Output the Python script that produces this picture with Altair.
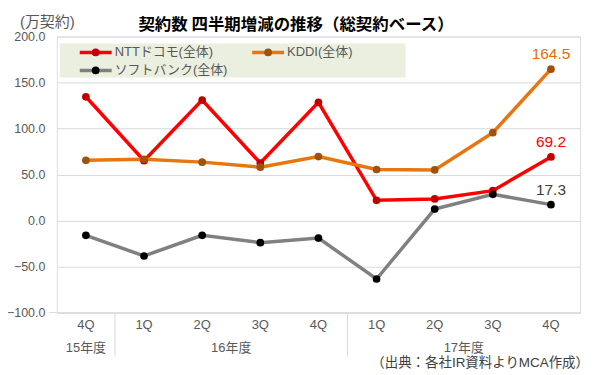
import altair as alt
import pandas as pd

# ---- data ----
cat_keys = ["15-4Q", "16-1Q", "16-2Q", "16-3Q", "16-4Q", "17-1Q", "17-2Q", "17-3Q", "17-4Q"]
series_names = ["NTTドコモ(全体)", "KDDI(全体)", "ソフトバンク(全体)"]
ntt = [134.5, 65.0, 131.0, 62.5, 128.5, 22.0, 23.5, 32.5, 69.2]
kddi = [65.5, 66.5, 63.5, 58.0, 69.5, 55.5, 55.0, 95.5, 164.5]
sb = [-16.0, -38.5, -16.0, -24.0, -19.0, -63.5, 12.5, 28.5, 17.3]
year_labels = ["15年度", "16年度", "17年度"]
line_colors = ["#FF0000", "#E8760F", "#808080"]
marker_colors = ["#C00000", "#A0520C", "#000000"]
label_colors = ["#FF0000", "#E46C0A", "#404040"]

rows = []
for name, vals in zip(series_names, [ntt, kddi, sb]):
    for i, (k, v) in enumerate(zip(cat_keys, vals)):
        rows.append({"cat": k, "series": name, "value": v, "last": i == len(cat_keys) - 1})
df = pd.DataFrame(rows)

W, H = 525, 277
FONT = "Liberation Sans, Noto Sans CJK JP"
GRAY = "#595959"

xenc = alt.X("cat:N", sort=cat_keys,
             scale=alt.Scale(domain=cat_keys, paddingInner=0, paddingOuter=0),
             axis=alt.Axis(title=None, labelExpr="split(datum.value, '-')[1]", labelAngle=0,
                           ticks=False, grid=False, domainColor="#D9D9D9", domainWidth=1,
                           labelFontSize=13, labelColor=GRAY, labelPadding=6, labelFont=FONT))
yenc = alt.Y("value:Q", scale=alt.Scale(domain=[-100, 200], nice=False),
             axis=alt.Axis(title=None, values=[-100, -50, 0, 50, 100, 150, 200], format=".1f",
                           ticks=False, domain=False, gridColor="#D9D9D9", gridWidth=1,
                           labelFontSize=12.5, labelColor=GRAY, labelPadding=12, labelFont=FONT))

base = alt.Chart(df)
lines = base.mark_line(strokeWidth=3.5).encode(
    x=xenc, y=yenc,
    color=alt.Color("series:N", scale=alt.Scale(domain=series_names, range=line_colors), legend=None),
    order=alt.Order("series:N"),
)
points = base.mark_circle(size=60, opacity=1).encode(
    x=alt.X("cat:N", sort=cat_keys), y="value:Q",
    fill=alt.Fill("series:N", scale=alt.Scale(domain=series_names, range=marker_colors), legend=None),
)
labels = base.transform_filter("datum.last").mark_text(
    fontSize=15.5, font=FONT, dy=-15, baseline="middle").encode(
    x=alt.X("cat:N", sort=cat_keys), y="value:Q", text=alt.Text("value:Q", format=".1f"),
    color=alt.Color("series:N", scale=alt.Scale(domain=series_names, range=label_colors), legend=None),
)

# x-axis category table
one = alt.Data(values=[{}])
yr1 = alt.Chart(pd.DataFrame({"cat": [cat_keys[0]], "t": [year_labels[0]]})).mark_text(
    fontSize=13, font=FONT, color=GRAY, baseline="middle").encode(
    x=alt.X("cat:N", sort=cat_keys, bandPosition=0.5), y=alt.value(H + 36), text="t:N")
yr2 = alt.Chart(pd.DataFrame({"cat": [cat_keys[2], cat_keys[6]], "t": year_labels[1:]})).mark_text(
    fontSize=13, font=FONT, color=GRAY, baseline="middle").encode(
    x=alt.X("cat:N", sort=cat_keys, bandPosition=1), y=alt.value(H + 36), text="t:N")
seps = alt.Chart(pd.DataFrame({"cat": [cat_keys[0], cat_keys[4]]})).mark_rule(
    color="#D9D9D9", strokeWidth=1).encode(
    x=alt.X("cat:N", sort=cat_keys, bandPosition=1), y=alt.value(H), y2=alt.value(H + 44))
stub = alt.Chart(one).mark_rule(color="#D9D9D9").encode(
    x=alt.value(-8), x2=alt.value(0), y=alt.value(H), y2=alt.value(H))

# texts
title = alt.Chart(one).mark_text(
    text="契約数 四半期増減の推移（総契約ベース）", fontSize=16.5, fontWeight="bold",
    font="Noto Sans CJK JP", color="#000000", baseline="middle").encode(
    x=alt.value(240), y=alt.value(-12))
unit = alt.Chart(one).mark_text(
    text="(万契約)", fontSize=15, font=FONT, color=GRAY, align="left", baseline="middle").encode(
    x=alt.value(-37), y=alt.value(-15))
source = alt.Chart(one).mark_text(
    text="（出典：各社IR資料よりMCA作成）", fontSize=13.5, font=FONT, color="#404040",
    align="right", baseline="middle").encode(x=alt.value(534), y=alt.value(328))

# legend
leg_layers = [alt.Chart(one).mark_rect(color="#EBEFDF").encode(
    x=alt.value(3), x2=alt.value(350), y=alt.value(7), y2=alt.value(41))]
leg_pos = [(23, 16), (196, 16), (23, 34)]
for name, lc, mc, (lx, ly) in zip(series_names, line_colors, marker_colors, leg_pos):
    leg_layers.append(alt.Chart(one).mark_rule(color=lc, strokeWidth=3.5).encode(
        x=alt.value(lx), x2=alt.value(lx + 32), y=alt.value(ly), y2=alt.value(ly)))
    leg_layers.append(alt.Chart(one).mark_circle(color=mc, size=60, opacity=1).encode(
        x=alt.value(lx + 16), y=alt.value(ly)))
    leg_layers.append(alt.Chart(one).mark_text(
        text=name, fontSize=13, font=FONT, color=GRAY, align="left", baseline="middle").encode(
        x=alt.value(lx + 35), y=alt.value(ly)))

chart = alt.layer(
    lines, points, labels, yr1, yr2, seps, stub, title, unit, source, *leg_layers
).resolve_scale(color="independent").properties(
    width=W, height=H,
    autosize=alt.AutoSizeParams(type="none"),
    padding={"left": 49, "top": 28, "right": 9, "bottom": 58},
).configure_view(stroke=None).configure(background="white")

chart.save("out.html", embed_options={"renderer": "svg", "actions": False})
